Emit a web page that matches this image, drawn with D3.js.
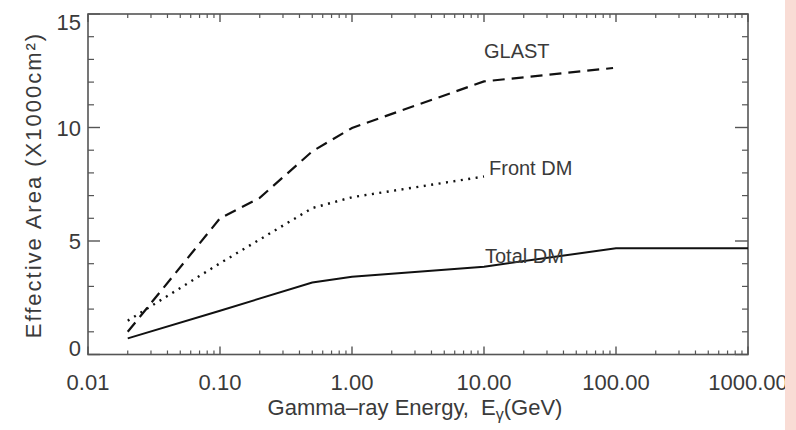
<!DOCTYPE html>
<html><head><meta charset="utf-8">
<script src="https://cdn.jsdelivr.net/npm/d3@7"></script>
<style>
body{margin:0;background:#fff;}
text{font-family:"Liberation Sans Narrow","Liberation Sans",Arial,sans-serif;fill:#3a3a3a;}
</style></head>
<body><svg id="c" width="796" height="430"></svg>
<script>
// Data (energy in GeV, effective area in 1000 cm^2)
const glastE    = [0.02, 0.1, 0.2, 0.5, 1, 10, 95];
const glastA    = [1.0, 6.0, 6.9, 8.95, 9.98, 12.03, 12.62];
const frontE    = [0.02, 0.1, 0.5, 1, 10];
const frontA    = [1.49, 4.02, 6.45, 6.93, 7.84];
const totalE    = [0.02, 0.1, 0.5, 1, 10, 100, 1000];
const totalA    = [0.71, 1.93, 3.17, 3.43, 3.87, 4.68, 4.68];
const xTickVals = [0.01, 0.1, 1, 10, 100, 1000];
const xTickLabels = ["0.01", "0.10", "1.00", "10.00", "100.00", "1000.00"];
const yTickVals = [0, 5, 10, 15];
const yTickLabels = ["0", "5", "10", "15"];
const seriesNames = ["GLAST", "Front DM", "Total DM"];

const svg = d3.select("#c");
const L = 88, R = 748, T = 14, B = 354.5;
const x = d3.scaleLog().domain([0.01, 1000]).range([L, R]);
const y = d3.scaleLinear().domain([0, 15]).range([B, T]);
const axisCol = "#555";

// minor tick values
const xMinor = [];
for (let d = -2; d < 3; d++) for (let k = 2; k <= 9; k++) xMinor.push(k * Math.pow(10, d));
const yMinor = d3.range(0, 16).filter(v => v % 5 !== 0);

const g = svg.append("g");
// ticks bottom/top
g.selectAll(".xb").data(xMinor).join("line")
  .attr("x1", d => x(d)).attr("x2", d => x(d)).attr("y1", B).attr("y2", B - 4)
  .attr("stroke", axisCol).attr("stroke-width", 1.2);
g.selectAll(".xt").data(xMinor).join("line")
  .attr("x1", d => x(d)).attr("x2", d => x(d)).attr("y1", T).attr("y2", T + 4)
  .attr("stroke", axisCol).attr("stroke-width", 1.2);
g.selectAll(".xbM").data(xTickVals).join("line")
  .attr("x1", d => x(d)).attr("x2", d => x(d)).attr("y1", B).attr("y2", B - 8)
  .attr("stroke", axisCol).attr("stroke-width", 1.4);
g.selectAll(".xtM").data(xTickVals).join("line")
  .attr("x1", d => x(d)).attr("x2", d => x(d)).attr("y1", T).attr("y2", T + 8)
  .attr("stroke", axisCol).attr("stroke-width", 1.4);
// ticks left/right
g.selectAll(".yl").data(yMinor).join("line")
  .attr("x1", L).attr("x2", L + 6).attr("y1", d => y(d)).attr("y2", d => y(d))
  .attr("stroke", axisCol).attr("stroke-width", 1.2);
g.selectAll(".yr").data(yMinor).join("line")
  .attr("x1", R).attr("x2", R - 6).attr("y1", d => y(d)).attr("y2", d => y(d))
  .attr("stroke", axisCol).attr("stroke-width", 1.2);
g.selectAll(".ylM").data(yTickVals).join("line")
  .attr("x1", L).attr("x2", L + 12).attr("y1", d => y(d)).attr("y2", d => y(d))
  .attr("stroke", axisCol).attr("stroke-width", 1.4);
g.selectAll(".yrM").data(yTickVals).join("line")
  .attr("x1", R).attr("x2", R - 13).attr("y1", d => y(d)).attr("y2", d => y(d))
  .attr("stroke", axisCol).attr("stroke-width", 1.4);
// frame
g.append("rect").attr("x", L).attr("y", T).attr("width", R - L).attr("height", B - T)
  .attr("fill", "none").attr("stroke", axisCol).attr("stroke-width", 1.6);

// tick labels
g.selectAll(".xl").data(xTickVals).join("text")
  .attr("x", d => x(d)).attr("y", 390).attr("text-anchor", "middle")
  .attr("font-size", 22).text((d, i) => xTickLabels[i]);
g.selectAll(".yll").data(yTickVals).join("text")
  .attr("x", 81).attr("y", (d, i) => y(d) + 8 + (i === 0 ? -7 : i === 3 ? 8 : 0))
  .attr("text-anchor", "end").attr("font-size", 22).text((d, i) => yTickLabels[i]);

// axis titles
const xt = g.append("text").attr("x", 415).attr("y", 415).attr("text-anchor", "middle").attr("font-size", 22);
xt.append("tspan").text("Gamma\u2013ray Energy,\u00a0\u00a0E");
xt.append("tspan").attr("font-size", 16).attr("dy", 5).text("\u03b3");
xt.append("tspan").attr("dy", -5).text("(GeV)");
g.append("text").attr("transform", "translate(41,185) rotate(-90)").attr("text-anchor", "middle")
  .attr("font-size", 22).attr("letter-spacing", 2).text("Effective Area (X1000cm\u00b2)");

// lines
const line = d3.line().x(d => x(d[0])).y(d => y(d[1]));
const mk = (E, A) => E.map((e, i) => [e, A[i]]);
g.append("path").attr("d", line(mk(glastE, glastA))).attr("fill", "none")
  .attr("stroke", "#111").attr("stroke-width", 2.2).attr("stroke-dasharray", "12,7");
g.append("path").attr("d", line(mk(frontE, frontA))).attr("fill", "none")
  .attr("stroke", "#111").attr("stroke-width", 2.4).attr("stroke-dasharray", "2,5.5").attr("stroke-linecap", "butt");
g.append("path").attr("d", line(mk(totalE, totalA))).attr("fill", "none")
  .attr("stroke", "#111").attr("stroke-width", 2);

// series labels
const lblPos = [[484, 58], [489, 175], [485, 263]];
g.selectAll(".sl").data(seriesNames).join("text")
  .attr("x", (d, i) => lblPos[i][0]).attr("y", (d, i) => lblPos[i][1])
  .attr("font-size", 20).text(d => d);

// pink side band
svg.append("rect").attr("x", 785).attr("y", 0).attr("width", 11).attr("height", 430).attr("fill", "#f9dcd5");
</script></body></html>
